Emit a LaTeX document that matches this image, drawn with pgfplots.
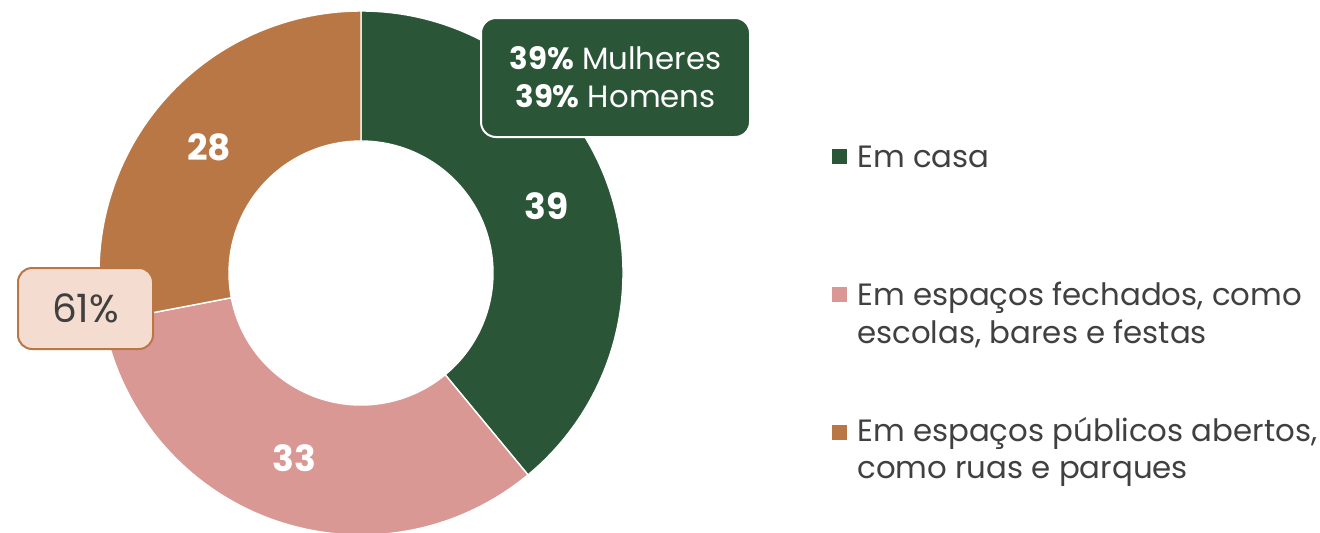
\documentclass[border=0pt]{standalone}
\usepackage{pgfplots}
\pgfplotsset{compat=1.18}
\usepackage{pgfplotstable}
\usepackage{fontspec}
\setmainfont{Poppins}
\definecolor{cgreen}{HTML}{2A5637}
\definecolor{cpink}{HTML}{DA9894}
\definecolor{cbrown}{HTML}{B97746}
\definecolor{cpeach}{HTML}{F4DDD0}
\definecolor{ctext}{HTML}{404040}

\pgfplotstableread{
label value
casa 39
fechados 33
abertos 28
}\donutdata
\pgfplotstablegetelem{0}{value}\of\donutdata \edef\va{\pgfplotsretval}
\pgfplotstablegetelem{1}{value}\of\donutdata \edef\vb{\pgfplotsretval}
\pgfplotstablegetelem{2}{value}\of\donutdata \edef\vc{\pgfplotsretval}
\pgfmathsetmacro\aA{90}
\pgfmathsetmacro\aB{90-3.6*\va}
\pgfmathsetmacro\aC{\aB-3.6*\vb}
\pgfmathsetmacro\aD{\aC-3.6*\vc}
\pgfmathsetmacro\mA{(\aA+\aB)/2}
\pgfmathsetmacro\mB{(\aB+\aC)/2}
\pgfmathsetmacro\mC{(\aC+\aD)/2}
\def\Ro{131pt}
\def\Ri{66pt}
\def\Rm{98.5pt}

\begin{document}%
\begin{tikzpicture}
\begin{axis}[x=0.5pt,y=0.5pt,xmin=0,xmax=1320,ymin=0,ymax=532,
  hide axis, clip=false, scale only axis]
\addplot[draw=none] coordinates {(0,0) (1320,532)};
\begin{scope}
\clip (axis cs:0,0) rectangle (axis cs:1320,532);
\begin{scope}[shift={(axis cs:361,259)}]
\filldraw[fill=cgreen,draw=white,line width=0.7pt] (\aA:\Ro) arc[start angle=\aA,end angle=\aB,radius=\Ro] -- (\aB:\Ri) arc[start angle=\aB,end angle=\aA,radius=\Ri] -- cycle;
\filldraw[fill=cpink,draw=white,line width=0.7pt] (\aB:\Ro) arc[start angle=\aB,end angle=\aC,radius=\Ro] -- (\aC:\Ri) arc[start angle=\aC,end angle=\aB,radius=\Ri] -- cycle;
\filldraw[fill=cbrown,draw=white,line width=0.7pt] (\aC:\Ro) arc[start angle=\aC,end angle=\aD,radius=\Ro] -- (\aD:\Ri) arc[start angle=\aD,end angle=\aC,radius=\Ri] -- cycle;
\end{scope}
\end{scope}
\begin{scope}[shift={(axis cs:361,259)}]
\node[text=white,font=\bfseries\fontsize{18}{20}\selectfont] at (\mA:\Rm) {\va};
\node[text=white,font=\bfseries\fontsize{18}{20}\selectfont] at (\mB:\Rm) {\vb};
\node[text=white,font=\bfseries\fontsize{18}{20}\selectfont] at (\mC:\Rm) {\vc};
\end{scope}
% callouts
\node[fill=cgreen,draw=white,line width=1pt,rounded corners=7.5pt,minimum width=134.5pt,minimum height=59.5pt,inner sep=0pt,text=white,align=center,font=\fontsize{15.4}{19}\selectfont] at (axis cs:615.5,454.5) {\textbf{39\%} Mulheres\\\textbf{39\%} Homens};
\node[fill=cpeach,draw=cbrown,line width=1pt,rounded corners=7pt,minimum width=67.5pt,minimum height=40.5pt,inner sep=0pt,text=ctext,font=\fontsize{19.5}{21}\selectfont] at (axis cs:85.5,223.5) {61\%};
% legend
\fill[cgreen] (axis cs:832,368) rectangle (axis cs:847,383);
\fill[cpink] (axis cs:832,230) rectangle (axis cs:847,245);
\fill[cbrown] (axis cs:832,92) rectangle (axis cs:847,107);
\begin{scope}[every node/.style={anchor=base west,inner sep=0pt,text=ctext,font=\fontsize{15.4}{19}\selectfont}]
\node at (axis cs:857,365) {Em casa};
\node at (axis cs:857,227) {Em espaços fechados, como};
\node at (axis cs:857,189) {escolas, bares e festas};
\node at (axis cs:857,91) {Em espaços públicos abertos,};
\node at (axis cs:857,54) {como ruas e parques};
\end{scope}
\end{axis}
\end{tikzpicture}%
\end{document}
